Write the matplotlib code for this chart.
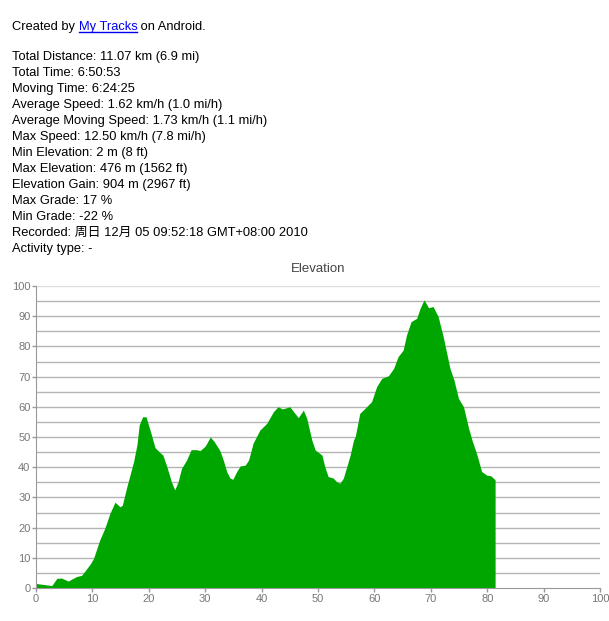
import matplotlib
matplotlib.use("Agg")
import matplotlib.pyplot as plt
from matplotlib.lines import Line2D

plt.rcParams['font.family'] = ['Liberation Sans', 'Noto Sans CJK SC', 'DejaVu Sans']

# track summary
header_pre = "Created by "
header_link = "My Tracks"
header_post = " on Android."
stats = [
    "Total Distance: 11.07 km (6.9 mi)",
    "Total Time: 6:50:53",
    "Moving Time: 6:24:25",
    "Average Speed: 1.62 km/h (1.0 mi/h)",
    "Average Moving Speed: 1.73 km/h (1.1 mi/h)",
    "Max Speed: 12.50 km/h (7.8 mi/h)",
    "Min Elevation: 2 m (8 ft)",
    "Max Elevation: 476 m (1562 ft)",
    "Elevation Gain: 904 m (2967 ft)",
    "Max Grade: 17 %",
    "Min Grade: -22 %",
    "Recorded: 周日 12月 05 09:52:18 GMT+08:00 2010",
    "Activity type: -",
]

# elevation profile
dist = [0, 2.8, 3.7, 4.5, 5.7, 7.2, 8.1, 9.6, 10.2, 11.3, 12.2, 13.1, 14.0,
        14.9, 15.3, 16.1, 17.3, 17.9, 18.3, 18.9, 19.5, 20.3, 21.1, 21.9,
        22.5, 23.2, 24.0, 24.6, 25.2, 25.8, 26.7, 27.5, 28.5, 29.1, 30.0,
        30.9, 31.6, 32.6, 33.2, 33.8, 34.4, 34.9, 35.6, 36.2, 37.1, 37.7,
        38.5, 39.7, 40.9, 42.1, 42.9, 43.7, 45.0, 46.5, 47.4, 48.0, 48.9,
        49.5, 50.7, 51.2, 51.8, 52.7, 53.3, 53.9, 54.5, 55.1, 55.7, 56.3,
        56.6, 57.4, 58.6, 59.5, 60.4, 61.3, 62.5, 63.4, 64.2, 65.1, 65.7,
        66.5, 67.5, 68.1, 68.8, 69.6, 70.4, 71.3, 72.2, 73.4, 74.1, 74.9,
        75.8, 76.7, 77.3, 78.2, 79.0, 79.9, 80.7, 81.4]
elev = [1.5, 0.8, 3.2, 3.3, 2.3, 3.8, 4.2, 7.9, 9.8, 15.9, 19.8, 24.7, 28.4,
        26.9, 27.4, 33.5, 41.8, 47.5, 54.0, 56.7, 56.7, 51.8, 46.5, 45.0,
        44.0, 40.2, 35.2, 32.5, 35.2, 39.6, 42.4, 45.8, 45.8, 45.5, 47.0,
        50.0, 48.5, 45.5, 42.4, 38.6, 36.4, 36.0, 38.6, 40.4, 40.7, 42.4,
        48.0, 52.3, 54.5, 58.4, 60.0, 59.3, 60.0, 56.4, 58.9, 56.2, 49.0,
        45.7, 44.0, 40.2, 36.9, 36.4, 35.2, 34.7, 36.4, 40.2, 44.0, 49.0,
        50.1, 57.8, 60.0, 61.7, 66.7, 69.4, 70.3, 72.7, 76.6, 78.8, 83.8,
        88.2, 89.3, 92.6, 95.4, 92.8, 93.2, 89.9, 83.2, 72.7, 68.9, 62.8,
        60.0, 52.9, 49.0, 44.0, 38.6, 37.4, 37.1, 35.8]

W, H = 609, 621
fig = plt.figure(figsize=(W / 100, H / 100), dpi=100)
renderer = fig.canvas.get_renderer()

fs = 9.3
x0 = 12 / W
base_first = 1 - 30 / H
t1 = fig.text(x0, base_first, header_pre, fontsize=fs, va='baseline', color='black')
bb = t1.get_window_extent(renderer)
t2 = fig.text(bb.x1 / W, base_first, header_link, fontsize=fs, va='baseline', color='#0000ee')
bb2 = t2.get_window_extent(renderer)
fig.add_artist(Line2D([bb2.x0 / W, bb2.x1 / W], [base_first - 1.5 / H] * 2,
                      color='#0000ee', lw=1, transform=fig.transFigure))
fig.text(bb2.x1 / W, base_first, header_post, fontsize=fs, va='baseline', color='black')

for i, line in enumerate(stats):
    fig.text(x0, 1 - (60 + 16 * i) / H, line, fontsize=fs, va='baseline', color='black')

ax = fig.add_axes([36 / W, 1 - 588 / H, 564 / W, 302 / H])
ax.fill_between(dist, elev, 0, color='#00a600', lw=0)
ax.set_xlim(0, 100)
ax.set_ylim(0, 100)

for v in range(5, 100, 5):
    ax.axhline(v, color='#b4b4b4', lw=1, zorder=0)
ax.axhline(100, color='#dddddd', lw=1, zorder=0)

for s in ['top', 'right']:
    ax.spines[s].set_visible(False)
ax.spines['left'].set_color('#999999')
ax.spines['bottom'].set_color('#999999')
ax.set_xticks(range(0, 101, 10))
ax.set_yticks(range(0, 101, 10))
ax.tick_params(colors='#999999', labelcolor='#777777', labelsize=8, length=3, width=1, pad=1)
ax.set_title("Elevation", fontsize=9.5, color='#444444', pad=10)

fig.savefig("out.png", dpi=100)
